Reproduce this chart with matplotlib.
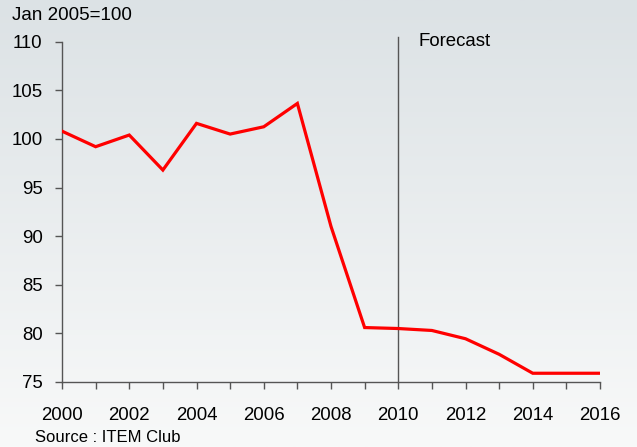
import numpy as np
import matplotlib
matplotlib.use("Agg")
import matplotlib.pyplot as plt

plt.rcParams['font.family'] = ['Liberation Sans', 'DejaVu Sans']

# Index values, Jan 2005 = 100
years = [2000, 2001, 2002, 2003, 2004, 2005, 2006, 2007, 2008,
         2009, 2010, 2011, 2012, 2013, 2014, 2015, 2016]
index_vals = [100.8, 99.2, 100.4, 96.8, 101.6, 100.5, 101.25, 103.65, 91.0,
              80.6, 80.5, 80.3, 79.45, 77.85, 75.9, 75.9, 75.9]
x_labels = [str(y) for y in range(2000, 2017, 2)]
y_ticks = [75, 80, 85, 90, 95, 100, 105, 110]
forecast_year = 2010

fig = plt.figure(figsize=(6.37, 4.47), dpi=100)

# soft vertical gradient behind everything
bg = fig.add_axes([0, 0, 1, 1], zorder=-10)
top = np.array([220, 226, 229]) / 255
bottom = np.array([248, 249, 249]) / 255
t = np.linspace(0, 1, 256)[:, None]
grad = top * (1 - t) + bottom * t
bg.imshow(grad[:, None, :], aspect='auto', extent=[0, 1, 0, 1])
bg.axis('off')

ax = fig.add_axes([62 / 637, 1 - 382 / 447, 538 / 637, 340.3 / 447])
ax.patch.set_alpha(0)

ax.plot(years, index_vals, color='#ff0000', lw=2.3, solid_joinstyle='miter', zorder=3)
ax.axvline(forecast_year, ymin=0, ymax=1.015, color='#555555', lw=1.0, clip_on=False, zorder=2)
ax.text(forecast_year + 0.6, 110, 'Forecast', fontsize=13.4, va='center', ha='left')

ax.set_xlim(2000, 2016)
ax.set_ylim(75, 110)
ax.set_xticks(years, minor=False)
ax.set_xticklabels([str(y) if y % 2 == 0 else '' for y in years])
ax.set_yticks(y_ticks)

for s in ['top', 'right']:
    ax.spines[s].set_visible(False)
for s in ['left', 'bottom']:
    ax.spines[s].set_color('#555555')
    ax.spines[s].set_linewidth(1.0)

ax.tick_params(axis='x', direction='out', length=5, width=1, color='#555555',
               labelsize=13.4, pad=13)
ax.tick_params(axis='y', direction='out', length=5, width=1, color='#555555',
               labelsize=13.4, pad=9)

fig.text(12 / 637, 1 - 16 / 447, 'Jan 2005=100', fontsize=13.5, va='center', ha='left')
fig.text(35 / 637, 1 - 437 / 447, 'Source : ITEM Club', fontsize=12, va='center', ha='left')

fig.savefig('out.png', dpi=100)
